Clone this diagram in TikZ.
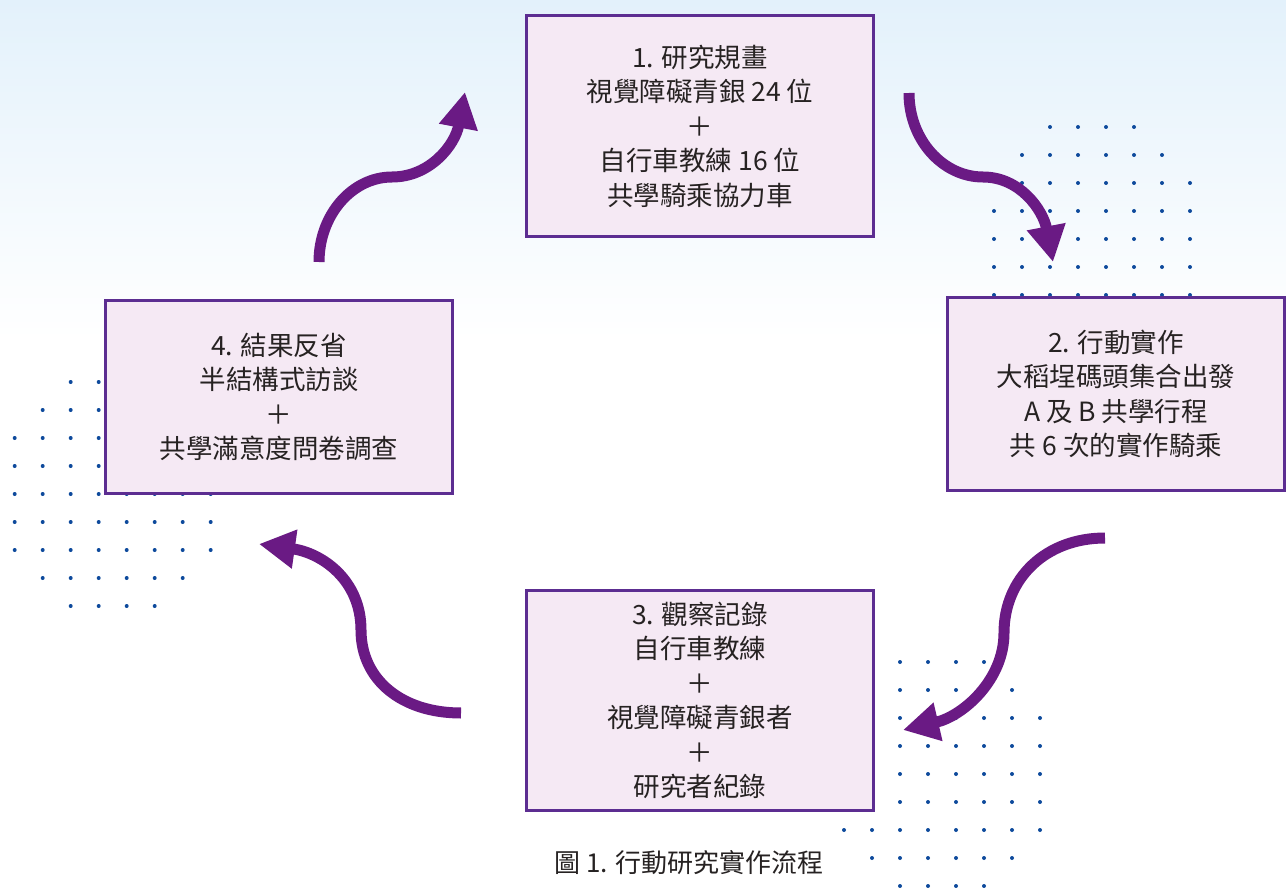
\documentclass[tikz,border=0pt]{standalone}
\usepackage{fontspec}
\newfontfamily\cjk{Noto Sans CJK TC}
\usetikzlibrary{arrows.meta}
\definecolor{bgblue}{HTML}{E3F1FB}
\definecolor{boxfill}{HTML}{F5E9F4}
\definecolor{boxline}{HTML}{5C2D91}
\definecolor{arrowc}{HTML}{6A1A84}
\definecolor{dotc}{HTML}{0E4A9C}
\definecolor{txt}{HTML}{262222}
\begin{document}
\begin{tikzpicture}[x=1pt,y=-1pt,
  stagebox/.style={draw=boxline, line width=3pt, fill=boxfill, rectangle, inner sep=0pt,
    text=txt, align=center, font=\cjk\fontsize{26.5}{34.5}\selectfont},
  flow/.style={draw=arrowc, line width=11pt, -{Triangle[length=36pt,width=37pt]}},
  caption/.style={text=txt, font=\cjk\fontsize{26}{30}\selectfont, inner sep=0pt},
  dotmark/.style={fill=dotc}]
\useasboundingbox (0,0) rectangle (1286,888);
% background
\fill[white] (0,0) rectangle (1286,888);
\shade[top color=bgblue, bottom color=white] (0,0) rectangle (1286,340);

% dot grids
\foreach \y/\a/\b in {127/2/5,155/1/6,183/1/7,211/0/7,239/0/7,267/0/7,295/0/7}
  \foreach \i in {\a,...,\b}
    \fill[dotmark] (994+28*\i,\y) circle[radius=2pt];
\foreach \y/\a/\b in {662/2/5,690/2/6,718/2/7,746/2/7,774/2/7,802/2/7,830/0/7,858/1/6,886/2/5}
  \foreach \i in {\a,...,\b}
    \fill[dotmark] (844+28*\i,\y) circle[radius=2pt];
\foreach \y/\a/\b in {382/2/7,410/1/7,438/0/7,466/0/7,494/0/7,522/0/7,550/0/7,578/1/6,606/2/5}
  \foreach \i in {\a,...,\b}
    \fill[dotmark] (14.7+28*\i,\y) circle[radius=2pt];

% boxes
\node[stagebox, minimum width=347pt, minimum height=221pt] (s1) at (700,126)
  {1. 研究規畫\\視覺障礙青銀 24 位\\＋\\自行車教練 16 位\\共學騎乘協力車};
\node[stagebox, minimum width=337pt, minimum height=193pt] (s2) at (1116,394)
  {2. 行動實作\\大稻埕碼頭集合出發\\A 及 B 共學行程\\共 6 次的實作騎乘};
\node[stagebox, minimum width=347pt, minimum height=220pt] (s3) at (700,700.5)
  {3. 觀察記錄\\自行車教練\\＋\\視覺障礙青銀者\\＋\\研究者紀錄};
\node[stagebox, minimum width=347pt, minimum height=193pt] (s4) at (279,397)
  {4. 結果反省\\半結構式訪談\\＋\\共學滿意度問卷調查};
\node[caption] (cap) at (689,863) {圖 1. 行動研究實作流程};

% arrow end points
\coordinate (a1s) at (319,262); \coordinate (a1m) at (392,177); \coordinate (a1e) at (465,92);
\coordinate (a2s) at (909,93);  \coordinate (a2m) at (983,177); \coordinate (a2e) at (1053,262);
\coordinate (a3s) at (1105,538); \coordinate (a3m) at (1004,633); \coordinate (a3e) at (903,730);
\coordinate (a4s) at (461,713); \coordinate (a4m) at (361,630); \coordinate (a4e) at (259,544);

\draw[flow] (a1s) .. controls (319,215) and (352,177) .. (a1m) .. controls (430,177) and (455,145) .. (a1e);
\draw[flow] (a2s) .. controls (909,140) and (943,177) .. (a2m) .. controls (1020,177) and (1043,210) .. (a2e);
\draw[flow] (a3s) .. controls (1046,538) and (1004,578) .. (a3m) .. controls (1004,680) and (963,716) .. (a3e);
\draw[flow] (a4s) .. controls (402,713) and (361,680) .. (a4m) .. controls (361,580) and (322,553) .. (a4e);
\end{tikzpicture}
\end{document}
